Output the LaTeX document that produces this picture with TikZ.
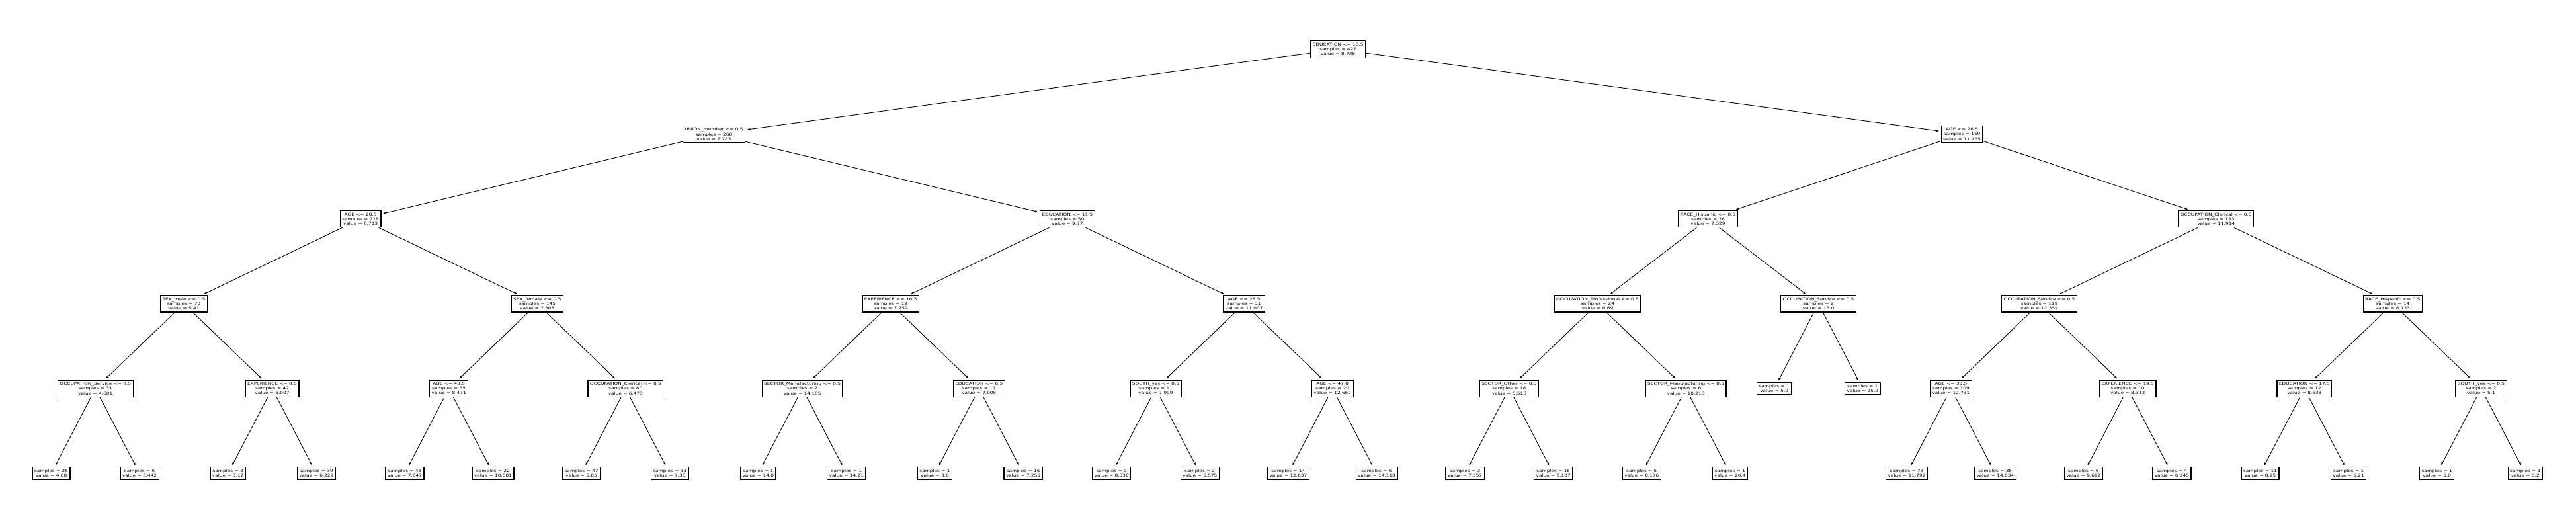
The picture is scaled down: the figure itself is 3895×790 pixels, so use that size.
\documentclass[tikz,border=0pt]{standalone}
\usepackage{fontspec}
\setmainfont{DejaVu Sans}[FakeStretch=1.25]
\usetikzlibrary{arrows.meta}

\tikzset{
  treebox/.style={draw=black, fill=white, line width=1.2pt, align=center,
    font=\fontsize{5.9}{7.1}\selectfont, inner xsep=3pt, inner ysep=3.3pt},
  treeedge/.style={->, line width=0.9pt, shorten >=3pt}
}

\begin{document}
\begin{tikzpicture}[x=1pt, y=-1pt, >={Stealth[length=4.5pt,width=3.6pt]}]
  \useasboundingbox (0,0) rectangle (3895,790);
  % level 0 and 1
  \node[treebox] (root) at (2023.1,74.5) {EDUCATION <= 13.5\\samples = 427\\value = 8.728};
  \node[treebox] (n1) at (1079.5,202.8) {UNION\_member <= 0.5\\samples = 268\\value = 7.283};
  \node[treebox] (n16) at (2966.6,202.8) {AGE <= 26.5\\samples = 159\\value = 11.165};
  % level 2
  \node[treebox] (n2) at (545.1,331.1) {AGE <= 28.5\\samples = 218\\value = 6.713};
  \node[treebox] (n9) at (1613.9,331.1) {EDUCATION <= 11.5\\samples = 50\\value = 9.77};
  \node[treebox] (n17) at (2582.5,331.1) {RACE\_Hispanic <= 0.5\\samples = 26\\value = 7.329};
  \node[treebox] (n22) at (3350.7,331.1) {OCCUPATION\_Clerical <= 0.5\\samples = 133\\value = 11.914};
  % level 3
  \node[treebox] (n3) at (277.9,459.4) {SEX\_male <= 0.5\\samples = 73\\value = 5.41};
  \node[treebox] (n6) at (812.3,459.4) {SEX\_female <= 0.5\\samples = 145\\value = 7.368};
  \node[treebox] (n10) at (1346.7,459.4) {EXPERIENCE <= 16.5\\samples = 19\\value = 7.752};
  \node[treebox] (n13) at (1881.1,459.4) {AGE <= 28.5\\samples = 31\\value = 11.007};
  \node[treebox] (n18) at (2415.5,459.4) {OCCUPATION\_Professional <= 0.5\\samples = 24\\value = 6.69};
  \node[treebox] (n21) at (2749.5,459.4) {OCCUPATION\_Service <= 0.5\\samples = 2\\value = 15.0};
  \node[treebox] (n23) at (3083.5,459.4) {OCCUPATION\_Service <= 0.5\\samples = 119\\value = 12.359};
  \node[treebox] (n26) at (3617.9,459.4) {RACE\_Hispanic <= 0.5\\samples = 14\\value = 8.133};
  % level 4
  \node[treebox] (n4) at (144.3,587.7) {OCCUPATION\_Service <= 0.5\\samples = 31\\value = 4.601};
  \node[treebox] (n5) at (411.5,587.7) {EXPERIENCE <= 0.5\\samples = 42\\value = 6.007};
  \node[treebox] (n7) at (678.7,587.7) {AGE <= 43.5\\samples = 65\\value = 8.471};
  \node[treebox] (n8) at (945.9,587.7) {OCCUPATION\_Clerical <= 0.5\\samples = 80\\value = 6.473};
  \node[treebox] (n11) at (1213.1,587.7) {SECTOR\_Manufacturing <= 0.5\\samples = 2\\value = 14.105};
  \node[treebox] (n12) at (1480.3,587.7) {EDUCATION <= 6.5\\samples = 17\\value = 7.005};
  \node[treebox] (n14) at (1747.5,587.7) {SOUTH\_yes <= 0.5\\samples = 11\\value = 7.999};
  \node[treebox] (n15) at (2014.7,587.7) {AGE <= 47.0\\samples = 20\\value = 12.662};
  \node[treebox] (n19) at (2281.9,587.7) {SECTOR\_Other <= 0.5\\samples = 18\\value = 5.516};
  \node[treebox] (n20) at (2549.1,587.7) {SECTOR\_Manufacturing <= 0.5\\samples = 6\\value = 10.213};
  \node[treebox] (a21) at (2682.7,587.7) {samples = 1\\value = 5.0};
  \node[treebox] (a22) at (2816.3,587.7) {samples = 1\\value = 25.0};
  \node[treebox] (n24) at (2949.9,587.7) {AGE <= 38.5\\samples = 109\\value = 12.731};
  \node[treebox] (n25) at (3217.1,587.7) {EXPERIENCE <= 19.5\\samples = 10\\value = 8.313};
  \node[treebox] (n27) at (3484.3,587.7) {EDUCATION <= 17.5\\samples = 12\\value = 8.638};
  \node[treebox] (n28) at (3751.5,587.7) {SOUTH\_yes <= 0.5\\samples = 2\\value = 5.1};
  % level 5 (leaves)
  \node[treebox] (a1) at (77.5,716) {samples = 25\\value = 4.88};
  \node[treebox] (a2) at (211.1,716) {samples = 6\\value = 3.442};
  \node[treebox] (a3) at (344.7,716) {samples = 3\\value = 3.12};
  \node[treebox] (a4) at (478.3,716) {samples = 39\\value = 6.229};
  \node[treebox] (a5) at (611.9,716) {samples = 43\\value = 7.647};
  \node[treebox] (a6) at (745.5,716) {samples = 22\\value = 10.081};
  \node[treebox] (a7) at (879.1,716) {samples = 47\\value = 5.85};
  \node[treebox] (a8) at (1012.7,716) {samples = 33\\value = 7.36};
  \node[treebox] (a9) at (1146.3,716) {samples = 1\\value = 14.0};
  \node[treebox] (a10) at (1279.9,716) {samples = 1\\value = 14.21};
  \node[treebox] (a11) at (1413.5,716) {samples = 1\\value = 3.0};
  \node[treebox] (a12) at (1547.1,716) {samples = 16\\value = 7.255};
  \node[treebox] (a13) at (1680.7,716) {samples = 9\\value = 8.538};
  \node[treebox] (a14) at (1814.3,716) {samples = 2\\value = 5.575};
  \node[treebox] (a15) at (1947.9,716) {samples = 14\\value = 12.037};
  \node[treebox] (a16) at (2081.5,716) {samples = 6\\value = 14.118};
  \node[treebox] (a17) at (2215.1,716) {samples = 3\\value = 7.557};
  \node[treebox] (a18) at (2348.7,716) {samples = 15\\value = 5.107};
  \node[treebox] (a19) at (2482.3,716) {samples = 5\\value = 8.176};
  \node[treebox] (a20) at (2615.9,716) {samples = 1\\value = 20.4};
  \node[treebox] (a23) at (2883.1,716) {samples = 73\\value = 11.792};
  \node[treebox] (a24) at (3016.7,716) {samples = 36\\value = 14.634};
  \node[treebox] (a25) at (3150.3,716) {samples = 6\\value = 9.692};
  \node[treebox] (a26) at (3283.9,716) {samples = 4\\value = 6.245};
  \node[treebox] (a27) at (3417.5,716) {samples = 11\\value = 8.95};
  \node[treebox] (a28) at (3551.1,716) {samples = 1\\value = 5.21};
  \node[treebox] (a29) at (3684.7,716) {samples = 1\\value = 5.0};
  \node[treebox] (a30) at (3818.3,716) {samples = 1\\value = 5.2};
  % connectors, left half
  \draw[treeedge] (root) -- (n1);
  \draw[treeedge] (n1) -- (n2);
  \draw[treeedge] (n1) -- (n9);
  \draw[treeedge] (n2) -- (n3);
  \draw[treeedge] (n2) -- (n6);
  \draw[treeedge] (n3) -- (n4);
  \draw[treeedge] (n3) -- (n5);
  \draw[treeedge] (n4) -- (a1);
  \draw[treeedge] (n4) -- (a2);
  \draw[treeedge] (n5) -- (a3);
  \draw[treeedge] (n5) -- (a4);
  \draw[treeedge] (n6) -- (n7);
  \draw[treeedge] (n6) -- (n8);
  \draw[treeedge] (n7) -- (a5);
  \draw[treeedge] (n7) -- (a6);
  \draw[treeedge] (n8) -- (a7);
  \draw[treeedge] (n8) -- (a8);
  \draw[treeedge] (n9) -- (n10);
  \draw[treeedge] (n9) -- (n13);
  \draw[treeedge] (n10) -- (n11);
  \draw[treeedge] (n10) -- (n12);
  \draw[treeedge] (n11) -- (a9);
  \draw[treeedge] (n11) -- (a10);
  \draw[treeedge] (n12) -- (a11);
  \draw[treeedge] (n12) -- (a12);
  \draw[treeedge] (n13) -- (n14);
  \draw[treeedge] (n13) -- (n15);
  \draw[treeedge] (n14) -- (a13);
  \draw[treeedge] (n14) -- (a14);
  \draw[treeedge] (n15) -- (a15);
  \draw[treeedge] (n15) -- (a16);
  % connectors, right half
  \draw[treeedge] (root) -- (n16);
  \draw[treeedge] (n16) -- (n17);
  \draw[treeedge] (n16) -- (n22);
  \draw[treeedge] (n17) -- (n18);
  \draw[treeedge] (n17) -- (n21);
  \draw[treeedge] (n18) -- (n19);
  \draw[treeedge] (n18) -- (n20);
  \draw[treeedge] (n19) -- (a17);
  \draw[treeedge] (n19) -- (a18);
  \draw[treeedge] (n20) -- (a19);
  \draw[treeedge] (n20) -- (a20);
  \draw[treeedge] (n21) -- (a21);
  \draw[treeedge] (n21) -- (a22);
  \draw[treeedge] (n22) -- (n23);
  \draw[treeedge] (n22) -- (n26);
  \draw[treeedge] (n23) -- (n24);
  \draw[treeedge] (n23) -- (n25);
  \draw[treeedge] (n24) -- (a23);
  \draw[treeedge] (n24) -- (a24);
  \draw[treeedge] (n25) -- (a25);
  \draw[treeedge] (n25) -- (a26);
  \draw[treeedge] (n26) -- (n27);
  \draw[treeedge] (n26) -- (n28);
  \draw[treeedge] (n27) -- (a27);
  \draw[treeedge] (n27) -- (a28);
  \draw[treeedge] (n28) -- (a29);
  \draw[treeedge] (n28) -- (a30);
\end{tikzpicture}
\end{document}
